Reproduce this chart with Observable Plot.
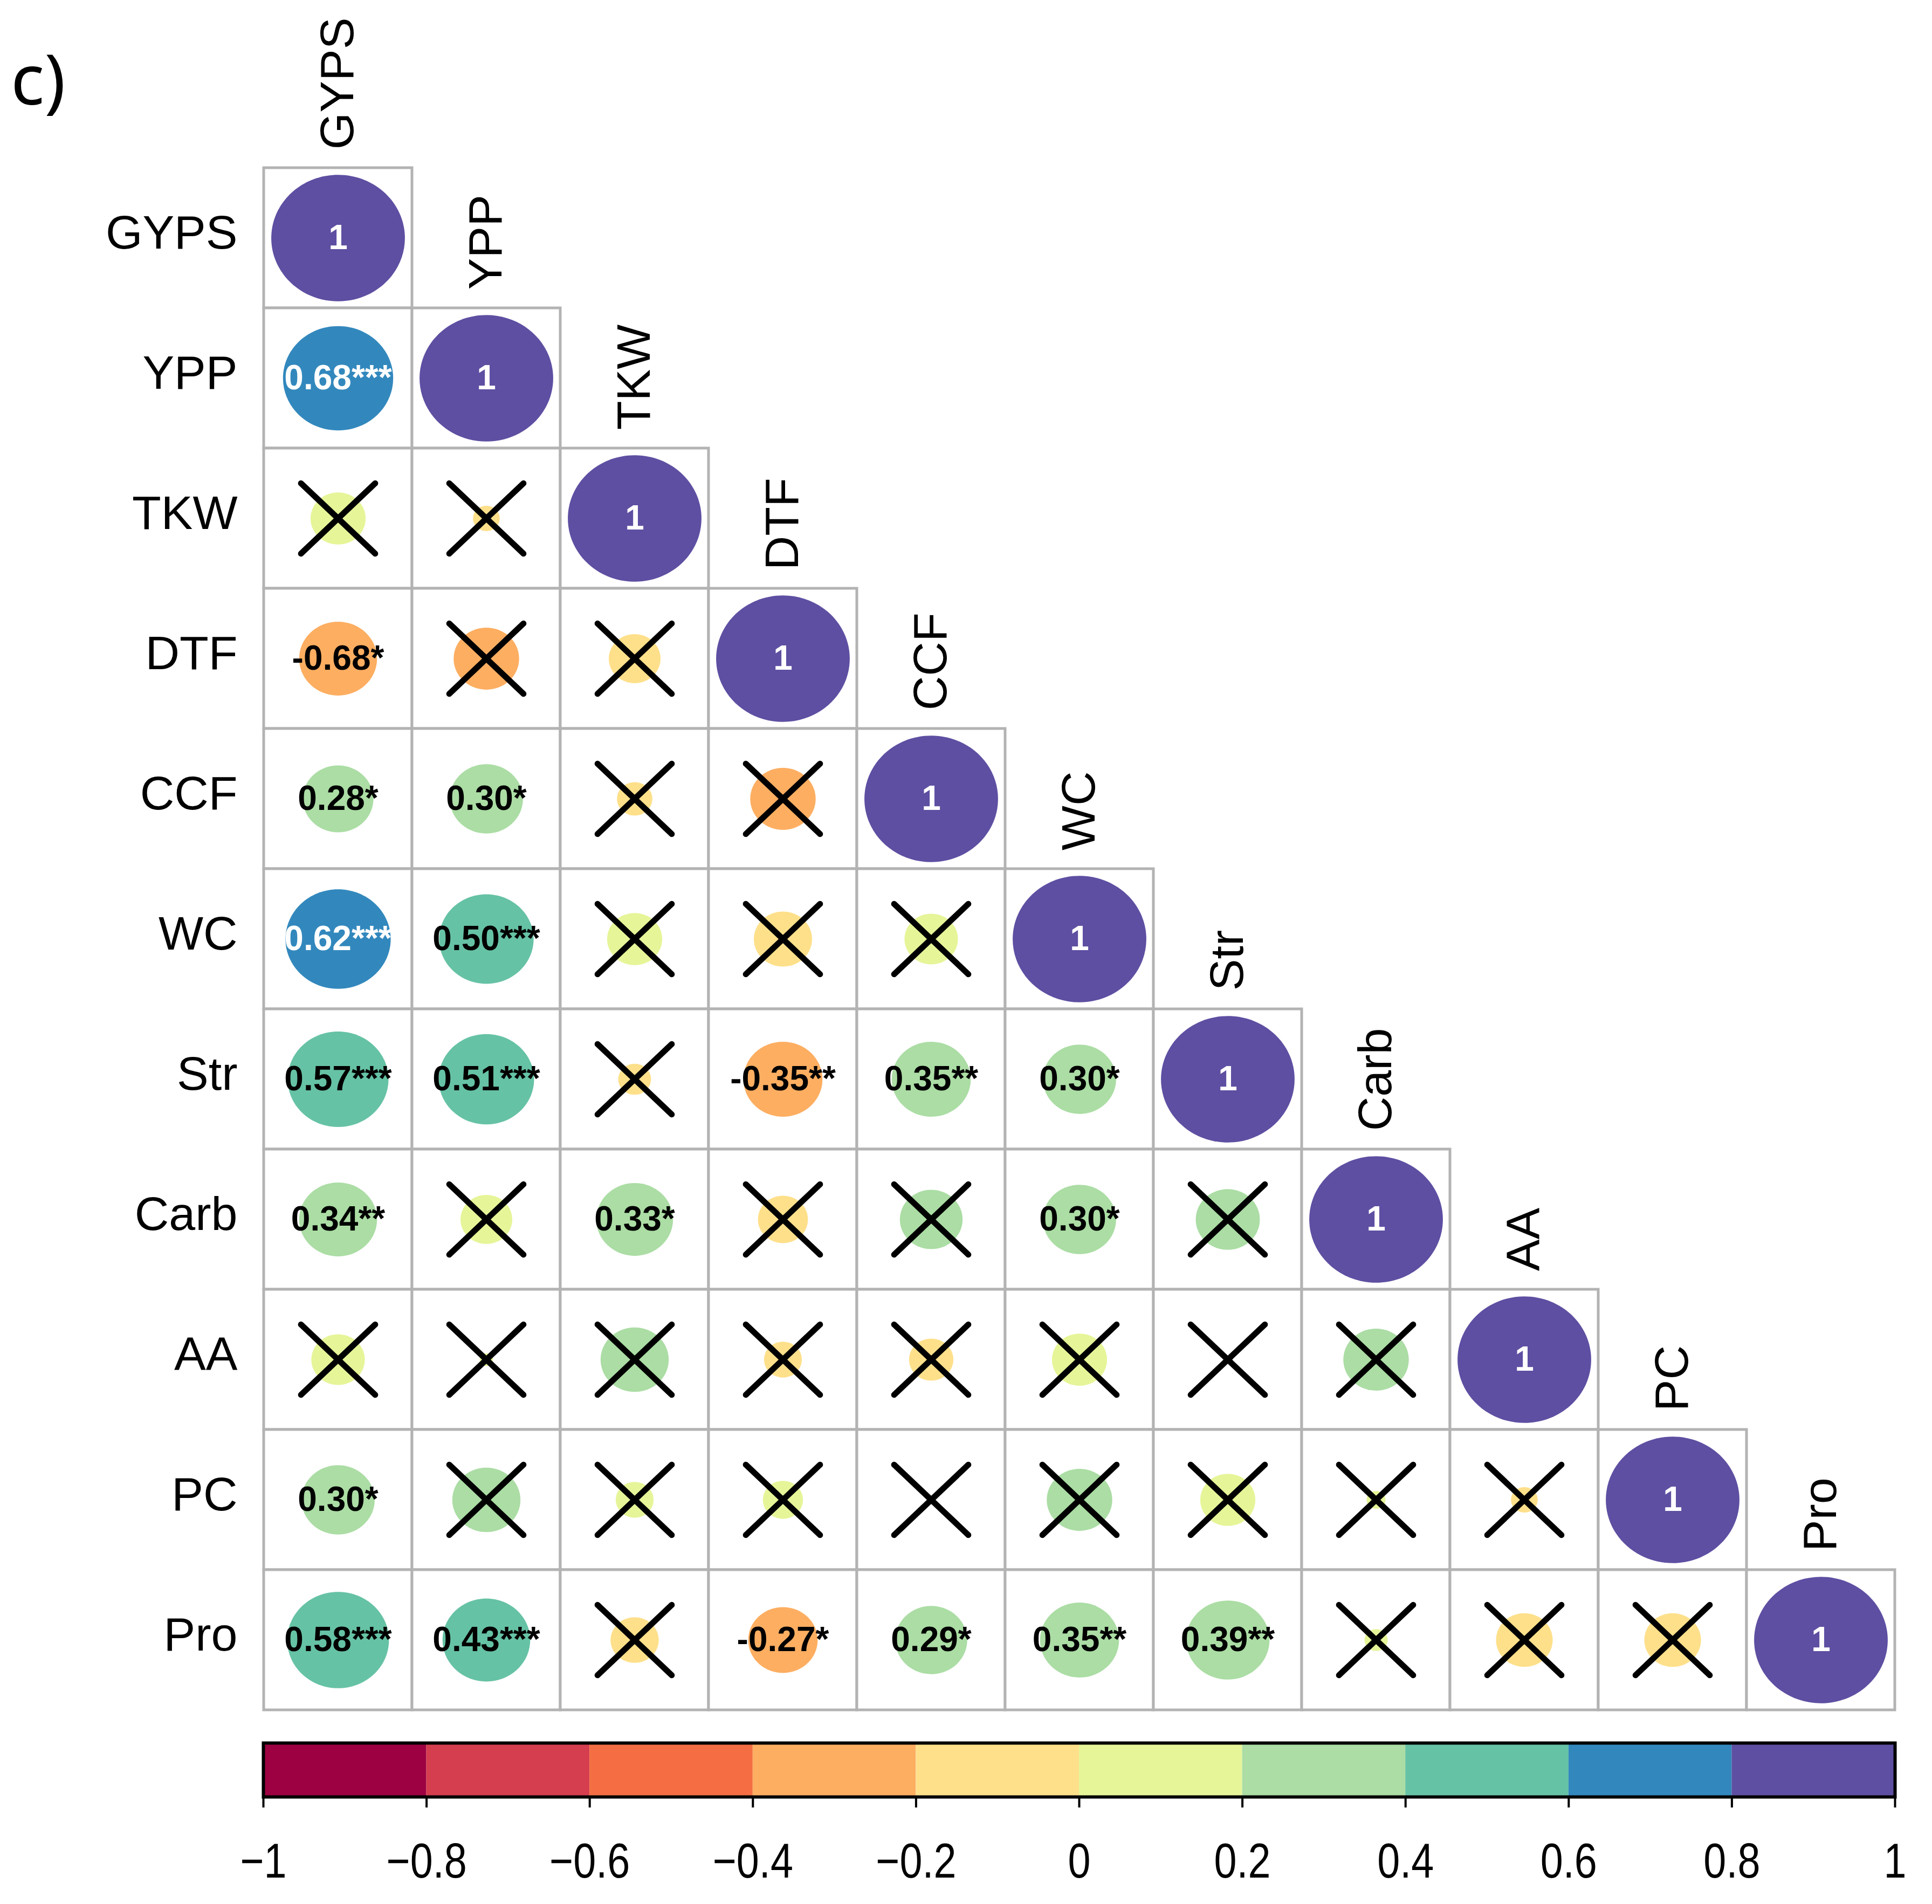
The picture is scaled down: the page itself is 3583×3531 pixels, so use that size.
<!DOCTYPE html>
<html>
<head>
<meta charset="utf-8">
<script src="https://cdn.jsdelivr.net/npm/d3@7"></script>
<script src="https://cdn.jsdelivr.net/npm/@observablehq/plot@0.6"></script>
<style>
  html, body { margin: 0; padding: 0; background: #fff; }
  #wrap { position: relative; width: 3583px; height: 3531px; overflow: hidden; }
  #title { position: absolute; left: 20px; top: 79px; font-family: "Noto Sans", "Liberation Sans", sans-serif; font-size: 130px; line-height: 1; color: #000; }
  #matrix, #bar { display: block; }
</style>
</head>
<body>
<div id="wrap">
  <div id="matrix"></div>
  <div id="bar"></div>
  <div id="title">c)</div>
</div>
<script>
// ---------- data ----------
const variables = ["GYPS", "YPP", "TKW", "DTF", "CCF", "WC", "Str", "Carb", "AA", "PC", "Pro"];

// lower-triangular correlation coefficients (row i, columns 0..i)
const corrGYPS = [1];
const corrYPP  = [0.68, 1];
const corrTKW  = [0.17, -0.04, 1];
const corrDTF  = [-0.34, -0.24, -0.15, 1];
const corrCCF  = [0.28, 0.30, -0.07, -0.24, 1];
const corrWC   = [0.62, 0.50, 0.17, -0.19, 0.16, 1];
const corrStr  = [0.57, 0.51, -0.06, -0.35, 0.35, 0.30, 1];
const corrCarb = [0.34, 0.15, 0.33, -0.14, 0.22, 0.30, 0.23, 1];
const corrAA   = [0.16, 0.01, 0.26, -0.08, -0.11, 0.17, 0.00, 0.24, 1];
const corrPC   = [0.30, 0.26, 0.08, 0.09, 0.00, 0.24, 0.17, 0.02, -0.04, 1];
const corrPro  = [0.58, 0.43, -0.13, -0.27, 0.29, 0.35, 0.39, 0.03, -0.18, -0.18, 1];
const corrRows = [corrGYPS, corrYPP, corrTKW, corrDTF, corrCCF, corrWC, corrStr, corrCarb, corrAA, corrPC, corrPro];

// printed labels ("" = not significant, crossed out)
const labGYPS = ["1"];
const labYPP  = ["0.68***", "1"];
const labTKW  = ["", "", "1"];
const labDTF  = ["-0.68*", "", "", "1"];
const labCCF  = ["0.28*", "0.30*", "", "", "1"];
const labWC   = ["0.62***", "0.50***", "", "", "", "1"];
const labStr  = ["0.57***", "0.51***", "", "-0.35**", "0.35**", "0.30*", "1"];
const labCarb = ["0.34**", "", "0.33*", "", "", "0.30*", "", "1"];
const labAA   = ["", "", "", "", "", "", "", "", "1"];
const labPC   = ["0.30*", "", "", "", "", "", "", "", "", "1"];
const labPro  = ["0.58***", "0.43***", "", "-0.27*", "0.29*", "0.35**", "0.39**", "", "", "", "1"];
const labelRows = [labGYPS, labYPP, labTKW, labDTF, labCCF, labWC, labStr, labCarb, labAA, labPC, labPro];

// colour bins (Spectral, 10 classes)
const thresholds = [-0.8, -0.6, -0.4, -0.2, 0, 0.2, 0.4, 0.6, 0.8];
const palette = ["#9E0142", "#D53E4F", "#F46D43", "#FDAE61", "#FEE08B", "#E6F598", "#ABDDA4", "#66C2A5", "#3288BD", "#5E4FA2"];
const barTicks = [-1, -0.8, -0.6, -0.4, -0.2, 0, 0.2, 0.4, 0.6, 0.8, 1];
const barTickLabels = ["\u22121", "\u22120.8", "\u22120.6", "\u22120.4", "\u22120.2", "0", "0.2", "0.4", "0.6", "0.8", "1"];

// ---------- table ----------
const table = [];
corrRows.forEach((row, i) => row.forEach((v, j) => {
  table.push({row: variables[i], col: variables[j], r: v, label: labelRows[i][j], sig: labelRows[i][j] !== ""});
}));

// ---------- layout ----------
const W = 3583;
const mLeft = 487, mRight = 67, mTop = 307, mBottom = 20;
const H = 3194;
const cellW = (W - mLeft - mRight) / variables.length;
const cellH = (H - mTop - mBottom) / variables.length;
const aspect = cellH / cellW;

const ellipse = {
  draw(ctx, size) {
    const a = Math.sqrt(size / Math.PI), b = a * aspect, k = 0.5523;
    ctx.moveTo(a, 0);
    ctx.bezierCurveTo(a, k * b, k * a, b, 0, b);
    ctx.bezierCurveTo(-k * a, b, -a, k * b, -a, 0);
    ctx.bezierCurveTo(-a, -k * b, -k * a, -b, 0, -b);
    ctx.bezierCurveTo(k * a, -b, a, -k * b, a, 0);
    ctx.closePath();
  }
};
const cross = {
  draw(ctx, size) {
    const a = Math.sqrt(size / Math.PI), b = a * aspect;
    ctx.moveTo(-a, -b); ctx.lineTo(a, b);
    ctx.moveTo(-a, b); ctx.lineTo(a, -b);
  }
};

const colorScale = {type: "threshold", domain: thresholds, range: palette};

const matrix = Plot.plot({
  width: W, height: H,
  marginLeft: mLeft, marginRight: mRight, marginTop: mTop, marginBottom: mBottom,
  style: {fontFamily: "'Liberation Sans', Arial, sans-serif", fontSize: "88px", background: "white", color: "black"},
  x: {domain: variables, type: "band", padding: 0, axis: null},
  y: {domain: variables, type: "band", padding: 0, label: null},
  color: colorScale,
  r: {type: "sqrt", domain: [0, 1], range: [0, 0.45 * cellW]},
  marks: [
    Plot.cell(table, {x: "col", y: "row", fill: "white", stroke: "#b3b3b3", strokeWidth: 5}),
    Plot.dot(table, {x: "col", y: "row", r: d => Math.abs(d.r), fill: "r", symbol: ellipse}),
    Plot.dot(table.filter(d => !d.sig), {x: "col", y: "row", r: 0.25 * cellW, symbol: cross, fill: "none", stroke: "black", strokeWidth: 11, strokeLinecap: "round"}),
    Plot.text(table.filter(d => d.sig && Math.abs(d.r) <= 0.6), {x: "col", y: "row", text: "label", fill: "black", fontWeight: "bold", fontSize: 64}),
    Plot.text(table.filter(d => d.sig && Math.abs(d.r) > 0.6), {x: "col", y: "row", text: "label", fill: "white", fontWeight: "bold", fontSize: 64}),
    Plot.text(variables, {x: d => d, y: d => d, text: d => d, rotate: -90, textAnchor: "start", dy: -(cellH / 2 + 34), fontSize: 88, fill: "black"}),
    Plot.axisY({tickSize: 0, tickPadding: 47, fontSize: 88, dy: -9, label: null})
  ]
});
document.getElementById("matrix").appendChild(matrix);

// ---------- colour bar ----------
const barTop = 38, barH = 100;
const bins = barTicks.slice(0, -1).map((t, i) => ({x1: t, x2: barTicks[i + 1], mid: (t + barTicks[i + 1]) / 2}));
const bar = Plot.plot({
  width: W, height: 3531 - H,
  marginLeft: 488, marginRight: 69, marginTop: barTop, marginBottom: 3531 - H - barTop - barH,
  style: {fontFamily: "'Liberation Sans', Arial, sans-serif", fontSize: "90px", background: "white", color: "black"},
  x: {domain: [-1, 1]},
  y: {domain: [0, 1], axis: null},
  color: colorScale,
  marks: [
    Plot.rect(bins, {x1: "x1", x2: "x2", y1: 0, y2: 1, fill: "mid"}),
    Plot.frame({stroke: "black", strokeWidth: 6}),
    Plot.axisX({ticks: barTicks, tickFormat: d => barTickLabels[barTicks.indexOf(d)], tickSize: 20, tickPadding: 66, strokeWidth: 4, fontSize: 90, label: null})
  ]
});
// narrow (condensed) look of the colour-bar tick labels
d3.select(bar).selectAll("g[aria-label='x-axis tick label'] text").each(function() {
  const t = this.getAttribute("transform") || "";
  this.setAttribute("transform", t + " scale(0.84,1)");
});
document.getElementById("bar").appendChild(bar);
</script>
</body>
</html>
